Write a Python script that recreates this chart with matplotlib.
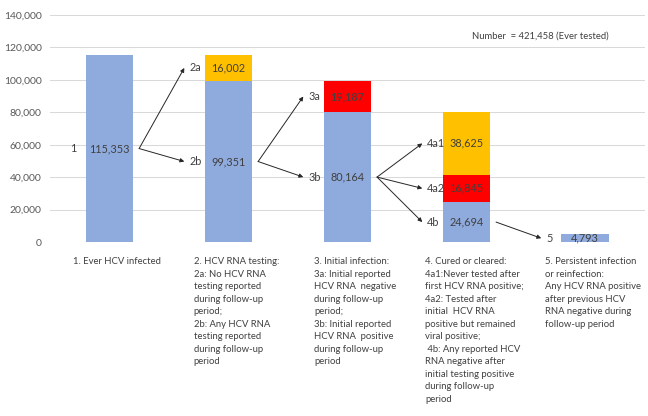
import matplotlib
matplotlib.use("Agg")
import matplotlib.pyplot as plt
from matplotlib.transforms import ScaledTranslation
import numpy as np

# values per bar, stacked bottom -> top: blue, red, orange
blue = [115353, 99351, 80164, 24694, 4793]
red = [0, 0, 19187, 16845, 0]
orange = [0, 16002, 0, 38625, 0]

# branch codes for each segment (blue, red, orange)
codes = [["1", "", ""],
         ["2b", "", "2a"],
         ["3b", "3a", ""],
         ["4b", "4a2", "4a1"],
         ["5", "", ""]]

categories = [
    "1. Ever HCV infected",
    "2. HCV RNA testing:\n2a: No HCV RNA\ntesting reported\nduring follow-up\nperiod;\n"
    "2b: Any HCV RNA\ntesting reported\nduring follow-up\nperiod",
    "3. Initial infection:\n3a: Initial reported\nHCV RNA  negative\nduring follow-up\nperiod;\n"
    "3b: Initial reported\nHCV RNA  positive\nduring follow-up\nperiod",
    "4. Cured or cleared:\n4a1:Never tested after\nfirst HCV RNA positive;\n4a2: Tested after\n"
    "initial  HCV RNA\npositive but remained\nviral positive;\n 4b: Any reported HCV\n"
    "RNA negative after\ninitial testing positive\nduring follow-up\nperiod",
    "5. Persistent infection\nor reinfection:\nAny HCV RNA positive\nafter previous HCV\n"
    "RNA negative during\nfollow-up period",
]

total_label = "Number  = 421,458 (Ever tested)"

plt.rcParams['font.family'] = ['Lato', 'DejaVu Sans']
txt = '#404040'

fig = plt.figure(figsize=(6.48, 4.16), dpi=100)
ax = fig.add_axes([0.077, 0.418, 0.918, 0.546])

x = np.arange(len(blue))
w = 0.4
series = [(blue, '#8FAADC'), (red, '#FF0000'), (orange, '#FFC000')]
bottom = np.zeros(len(blue))
mids = []
for vals, col in series:
    vals = np.array(vals, dtype=float)
    ax.bar(x, vals, w, bottom=bottom, color=col, zorder=2)
    m = bottom + vals / 2
    mids.append(m)
    for xi, v, yi in zip(x, vals, m):
        if v > 0:
            ax.text(xi, yi, f"{int(v):,}", ha='center', va='center',
                    fontsize=7.8, color=txt, zorder=3)
    bottom = bottom + vals

# arrows from the blue segment of each bar to the segments of the next one
for i in range(len(blue)):
    for s in range(3):
        c = codes[i][s]
        if not c:
            continue
        ax.text(i - 0.33, mids[s][i], c, ha='left', va='center',
                fontsize=7.8, color=txt)
        if i > 0:
            ax.annotate("", xy=(i - 0.37, mids[s][i]),
                        xytext=(i - 1 + 0.25, mids[0][i - 1]),
                        arrowprops=dict(arrowstyle='-|>', color='#262626',
                                        lw=0.7, mutation_scale=6,
                                        shrinkA=0, shrinkB=0))

ax.text(3.05, 127100, total_label, ha='left', va='center', fontsize=6.8, color=txt)

ax.set_xlim(-0.5, 4.5)
ax.set_ylim(0, 140000)
ax.set_yticks(np.arange(0, 140001, 20000))
ax.yaxis.set_major_formatter(matplotlib.ticker.FuncFormatter(lambda v, p: f"{int(v):,}"))
ax.tick_params(axis='y', length=0, labelsize=7.5, labelcolor='#595959', pad=6)
ax.set_xticks(x)
ax.set_xticklabels(categories, ma='left', va='top', fontsize=6.8, color=txt,
                   linespacing=1.5)
ax.tick_params(axis='x', length=0, pad=11)
shift = ScaledTranslation(8 / 100, 0, fig.dpi_scale_trans)
for lbl in ax.get_xticklabels():
    lbl.set_transform(lbl.get_transform() + shift)
ax.grid(axis='y', color='#D9D9D9', lw=0.75, zorder=0)
ax.set_axisbelow(True)
for sp in ax.spines.values():
    sp.set_visible(False)

fig.savefig("out.png", dpi=100)
